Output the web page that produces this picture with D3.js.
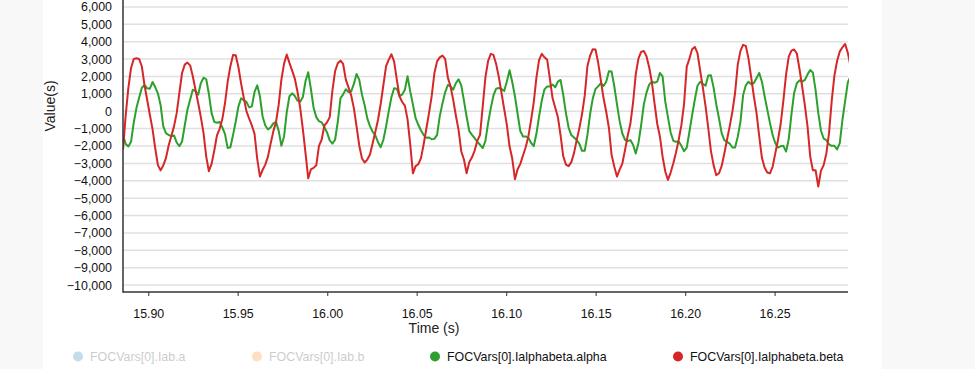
<!DOCTYPE html>
<html><head><meta charset="utf-8">
<script src="https://cdn.jsdelivr.net/npm/d3@7"></script>
<style>
html,body{margin:0;padding:0;background:#f8f8f8;}
svg{display:block;font-family:"Liberation Sans",Arial,sans-serif;}
</style></head><body>
<svg id="chart" width="975" height="369"></svg>
<script>
// ---- data ----
const sampleStart = 15.8859;   // s, first sample time
const sampleInterval = 0.0015; // s
const yTickValues = [-10000,-9000,-8000,-7000,-6000,-5000,-4000,-3000,-2000,-1000,0,1000,2000,3000,4000,5000,6000];
const xTickValues = [15.90,15.95,16.00,16.05,16.10,16.15,16.20,16.25];
const seriesNames = ["FOCVars[0].Iab.a","FOCVars[0].Iab.b","FOCVars[0].Ialphabeta.alpha","FOCVars[0].Ialphabeta.beta"];
const seriesColors = ["#1f77b4","#ff7f0e","#2ca02c","#d62728"];
const seriesVisible = [false,false,true,true];

const alphaValues = [
-1360,-1880,-2030,-1760,-660,180,780,1340,1510,1320,
1300,1680,1390,1030,360,-870,-1260,-1370,-1430,-1390,
-1800,-2010,-1740,-820,90,660,1240,1160,950,1620,
1930,1840,990,-110,-610,-660,-620,-930,-1320,-2120,
-2070,-1360,-590,280,740,640,530,220,280,1110,
1490,860,-300,-820,-1050,-930,-700,-610,-1130,-1990,
-1450,-50,860,1030,880,610,
550,820,1740,2240,1280,200,-340,-570,-640,-910,
-1220,-1680,-1860,-1640,-620,740,970,1260,1110,1140,
1570,2140,1820,970,360,-410,-860,-1180,-1390,-1780,
-2070,-1640,-870,10,820,1320,1300,860,970,1240,
2010,1140,380,-400,-780,-1110,-1370,-1530,-1510,-1610,
-1590,-1360,-280,450,1090,1510,1430,1240,1620,1840,
1490,620,-320,-1140,-1360,-1550,-1760,
-1930,-2120,-1700,-680,180,910,1300,1340,1280,1160,
1720,2360,1680,860,-160,-1140,-1450,-1450,-1530,-1820,
-2010,-1300,-300,620,1260,1430,1430,1530,1380,1700,
1800,930,-110,-950,-1370,-1510,-1660,-1880,-2280,-2280,
-1360,-160,740,1280,1430,1610,1450,1700,2300,2280,
1450,410,-570,-1280,-1640,-1720,-1660,-1930,-2430,-1840,
-820,380,1070,1530,1700,1640,1700,
2200,2010,550,-340,-1220,-1700,-1760,-1740,-1990,-2300,
-2090,-1180,-220,660,1470,1700,1570,1470,2050,2070,
1360,390,-400,-1260,-1660,-1760,-1860,-2090,-2090,-1470,
-610,930,1490,1700,1550,1620,1910,2200,1700,860,
90,-680,-1370,-1840,-2090,-2010,-1990,-2320,-1590,-180,
1050,1610,1780,1700,1800,2120,2370,2220,1200,-110,
-1120,-1570,-1660,-1900,-1990,-1990,-2200,-1840,-490,600,
1660,2010
];

const betaValues = [
-2220,-240,1350,2490,3010,3050,3010,2590,1510,660,
-200,-1030,-2130,-3100,-3400,-3120,-2700,-1970,-1430,-870,
-110,1050,2200,2680,2800,2640,2010,1240,470,-340,
-1260,-2610,-3450,-3030,-2260,-1390,-1010,-450,470,1700,
2590,3240,3220,2530,1590,760,-10,-430,-820,-1300,
-2740,-3760,-3380,-3070,-2610,-1860,-1160,-620,380,1820,
2740,3260,2780,2340,1880,1120,
200,-1030,-2430,-3860,-3340,-3260,-3110,-1990,-1640,-820,
-640,-340,1180,2300,2760,2910,2720,1820,1370,910,
180,-870,-1970,-2700,-2950,-2780,-2490,-1840,-1180,-490,
430,1510,2590,2970,3280,2850,1820,860,530,320,
-470,-1920,-3570,-3160,-3050,-2700,-1900,-1010,-90,880,
2200,2870,3100,3200,3010,1950,1430,660,-260,-1070,
-2300,-2780,-3570,-2920,-2650,-2260,-1690,
-1360,280,1950,2890,3300,3240,2720,1970,1050,120,
-800,-2030,-2720,-3910,-3340,-3030,-2550,-2070,-1450,-530,
510,1930,2950,3300,3100,2970,1890,760,220,-340,
-1390,-2590,-3070,-3160,-2930,-2410,-1660,-970,-160,910,
2590,3200,3570,3550,2800,1780,760,-30,-950,-2510,
-3180,-3760,-3360,-3010,-2240,-1410,-720,490,2120,3030,
3410,3470,3160,2530,1680,450,-720,
-1450,-2610,-3470,-3950,-3530,-2990,-2370,-1640,-800,430,
2570,3030,3570,3700,3340,2340,1360,300,-950,-2280,
-3100,-3680,-3570,-3160,-2430,-1640,-870,-30,1050,2680,
3470,3820,3760,3030,1950,860,-110,-1450,-2680,-3240,
-3530,-3570,-3180,-2410,-1640,-720,620,2120,3140,3490,
3550,3320,2430,1410,340,-890,-2610,-3400,-3400,-4330,
-3420,-3100,-2430,-1260,600,2050,2890,3430,3680,3870,
3360,2600
];

// ---- layout ----
const svg = d3.select("#chart");
const plot = {left:123, right:848, top:0, bottom:292};

svg.append("rect").attr("x",43).attr("y",0).attr("width",839).attr("height",369).attr("fill","#ffffff");

const x = d3.scaleLinear().domain([15.8859, 16.2910]).range([plot.left, plot.right]);
const y = d3.scaleLinear().domain([-10400, 6400]).range([plot.bottom, plot.top]);

// gridlines
svg.append("g").selectAll("line").data(yTickValues).join("line")
  .attr("x1",plot.left).attr("x2",plot.right)
  .attr("y1",d=>y(d)).attr("y2",d=>y(d))
  .attr("stroke","#e0e0e0").attr("stroke-width",1.5);

// y axis labels
const yAxis = d3.axisLeft(y).tickValues(yTickValues).tickSize(0).tickPadding(11).tickFormat(d3.format(","));
const gy = svg.append("g").attr("transform",`translate(${plot.left},0)`).call(yAxis);
gy.select(".domain").remove();
gy.selectAll("text").attr("font-size",12.4).attr("fill","#111").attr("font-family","Liberation Sans, Arial, sans-serif");

// x axis
const xAxis = d3.axisBottom(x).tickValues(xTickValues).tickSize(4).tickPadding(13.2).tickFormat(d3.format(".2f"));
const gx = svg.append("g").attr("transform",`translate(0,${plot.bottom})`).call(xAxis);
gx.select(".domain").remove();
gx.selectAll(".tick line").attr("stroke","#555").attr("stroke-width",1.2);
gx.selectAll("text").attr("font-size",12.4).attr("fill","#111").attr("font-family","Liberation Sans, Arial, sans-serif");

// lines
svg.append("clipPath").attr("id","clip").append("rect")
  .attr("x",plot.left).attr("y",plot.top).attr("width",plot.right-plot.left+1).attr("height",plot.bottom-plot.top);

const line = d3.line().x((d,i)=>x(sampleStart + i*sampleInterval)).y(d=>y(d));
const lines = svg.append("g").attr("clip-path","url(#clip)");
lines.append("path").datum(alphaValues).attr("d",line)
  .attr("fill","none").attr("stroke",seriesColors[2]).attr("stroke-width",2).attr("stroke-linejoin","round");
lines.append("path").datum(betaValues).attr("d",line)
  .attr("fill","none").attr("stroke",seriesColors[3]).attr("stroke-width",2).attr("stroke-linejoin","round");

// axis lines
svg.append("line").attr("x1",plot.left).attr("x2",plot.left).attr("y1",plot.top).attr("y2",plot.bottom+0.75)
  .attr("stroke","#333").attr("stroke-width",1.5);
svg.append("line").attr("x1",plot.left).attr("x2",plot.right).attr("y1",plot.bottom).attr("y2",plot.bottom)
  .attr("stroke","#333").attr("stroke-width",1.5);

// axis titles
svg.append("text").attr("x",434).attr("y",333).attr("text-anchor","middle")
  .attr("font-size",14).attr("fill","#222").text("Time (s)");
svg.append("text").attr("transform","translate(55,106) rotate(-90)").attr("text-anchor","middle")
  .attr("font-size",14).attr("fill","#222").text("Value(s)");

// legend
const legendX = [78, 257, 435, 678];
const lg = svg.append("g").selectAll("g").data(seriesNames).join("g")
  .attr("transform",(d,i)=>`translate(${legendX[i]},356.5)`)
  .attr("opacity",(d,i)=>seriesVisible[i]?1:0.25);
lg.append("circle").attr("r",5).attr("fill",(d,i)=>seriesColors[i]);
lg.append("text").attr("x",12).attr("y",4.3).attr("font-size",12.4).attr("fill",(d,i)=>seriesVisible[i]?"#111":"#333").text(d=>d);
</script>
</body></html>
